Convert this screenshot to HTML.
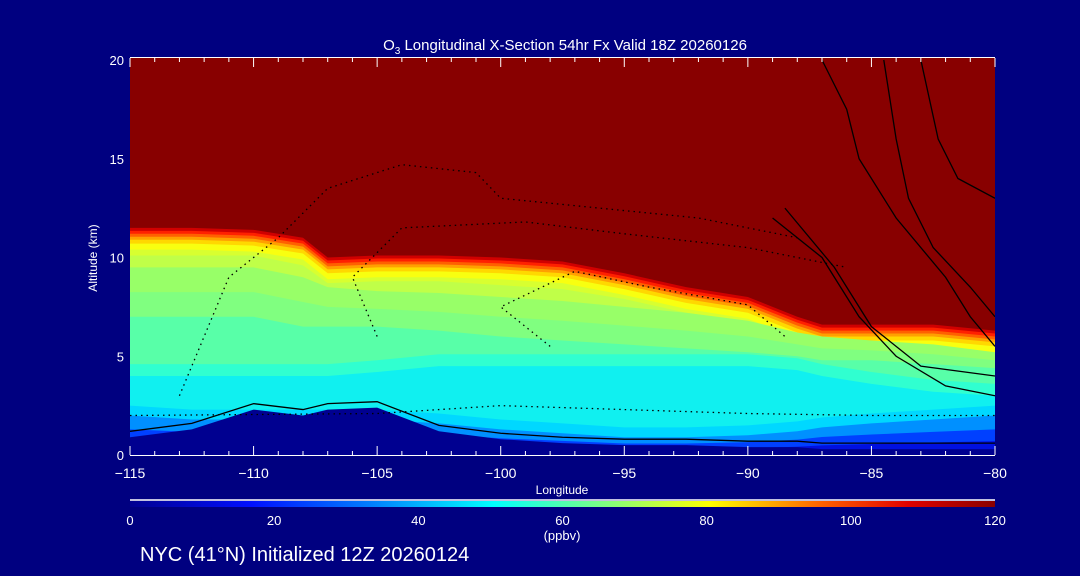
<!DOCTYPE html>
<html><head><meta charset="utf-8"><style>
html,body{margin:0;padding:0;background:#000080;}
svg{display:block;font-family:"Liberation Sans",sans-serif;}
</style></head><body>
<svg id="chart" width="1080" height="576" viewBox="0 0 1080 576">
<defs>
<linearGradient id="cbar" x1="0" x2="1" y1="0" y2="0">
<stop offset="0" stop-color="#000090"/><stop offset="0.14" stop-color="#0010ff"/>
<stop offset="0.28" stop-color="#0080ff"/><stop offset="0.42" stop-color="#00ffff"/>
<stop offset="0.55" stop-color="#80ff80"/><stop offset="0.67" stop-color="#ffff00"/>
<stop offset="0.8" stop-color="#ff6000"/><stop offset="0.9" stop-color="#e00000"/>
<stop offset="1" stop-color="#880000"/></linearGradient>
<clipPath id="clip"><rect x="130" y="58" width="865" height="397"/></clipPath>
</defs>
<rect width="1080" height="576" fill="#000080"/>
<g id="plot" clip-path="url(#clip)"></g>
<g id="axes"></g>
<text x="565" y="50" fill="#fff" font-size="15" text-anchor="middle">O<tspan font-size="10" dy="4">3</tspan><tspan dy="-4"> Longitudinal X-Section 54hr  Fx Valid 18Z 20260126</tspan></text>
<text x="97" y="258" fill="#fff" font-size="12" text-anchor="middle" transform="rotate(-90 97 258)">Altitude (km)</text>
<text x="562" y="494" fill="#fff" font-size="12" text-anchor="middle">Longitude</text>
<line x1="130" y1="500" x2="995" y2="500" stroke="#fff" stroke-width="1.5"/>
<rect x="130" y="501" width="865" height="6" fill="url(#cbar)"/>
<g id="cbl"></g>
<text x="562" y="540" fill="#fff" font-size="13" text-anchor="middle">(ppbv)</text>
<text x="140" y="561" fill="#fff" font-size="20">NYC (41°N) Initialized 12Z 20260124</text>
</svg>
<script>
const lons=[-115,-112.5,-110,-108,-107,-105,-102.5,-100,-97.5,-95,-92.5,-90,-88,-87,-85,-82.5,-80];
const tropo=[11.5,11.5,11.4,11,10,10.1,10.1,10,9.8,9.2,8.5,8,7,6.6,6.6,6.6,6.3];
const ygBottom=[9.5,9.5,9.5,9,8.5,8.3,8.2,8,7.8,7.5,7.2,6.8,6.2,6,5.8,5.6,5.2];
const greenBottom=[7,7,7,6.5,6.5,6.5,6.3,6,5.8,5.6,5.4,5.2,5,4.8,4.8,4.6,4.4];
const cyanTop=[4,4,4,4,4,4.2,4.5,4.5,4.5,4.5,4.5,4.5,4.3,4,3.6,3.2,3];
const blueTop=[2,1.8,1.8,1.8,1.8,1.8,1.6,1.3,1.1,0.9,0.9,1,1.2,1.4,1.6,1.8,2];
const terrain=[0.9,1.3,2.3,2.0,2.3,2.4,1.2,0.8,0.6,0.5,0.5,0.4,0.4,0.3,0.3,0.3,0.3];
const xTicks=[-115,-110,-105,-100,-95,-90,-85,-80];
const yTicks=[0,5,10,15,20];
const cbTicks=[0,20,40,60,80,100,120];
const contourDotted10=[[-113,3],[-112,6],[-111,9],[-109,11],[-107,13.5],[-104,14.7],[-101,14.3],[-100,13],[-96,12.5],[-92,12],[-88,11]];
const contourDotted20=[[-105,6],[-106,9],[-104,11.5],[-99,11.8],[-95,11.2],[-90,10.5],[-86,9.5]];
const contourDotted30=[[-98,5.5],[-100,7.5],[-97,9.3],[-94,8.5],[-90,7.6],[-88.5,6]];
const contourDottedLow=[[-115,2],[-105,2.1],[-100,2.5],[-95,2.3],[-90,2.1],[-85,2],[-80,2]];
const contourSolid0=[[-87,20],[-86,17.5],[-85.5,15],[-84,12],[-82,9],[-81,7],[-80,5.5]];
const contourSolid1=[[-84.5,20],[-84,16],[-83.5,13],[-82.5,10.5],[-81,8.5],[-80,7]];
const contourSolid2=[[-83,20],[-82.3,16],[-81.5,14],[-80,13]];
const contourSolid3=[[-89,12],[-87,10],[-85.5,7],[-84,5],[-82,3.5],[-80,3]];
const contourSolid4=[[-88.5,12.5],[-86.5,9.5],[-85,6.5],[-83,4.5],[-80,4]];
const ns='http://www.w3.org/2000/svg';
const X=v=>130+(v+115)*(865/35), Y=v=>455-v*19.75;
const plot=document.getElementById('plot'),axes=document.getElementById('axes');
function poly(arr,fill,name){const p=document.createElementNS(ns,'polygon');
let pts=lons.map((l,i)=>X(l)+','+Y(arr[i]));pts.push(X(-80)+','+Y(-1),X(-115)+','+Y(-1));
p.setAttribute('points',pts.join(' '));p.setAttribute('fill',fill);


plot.appendChild(p);}
const bg=document.createElementNS(ns,'rect');bg.setAttribute('x',130);bg.setAttribute('y',58);bg.setAttribute('width',865);bg.setAttribute('height',397);bg.setAttribute('fill','#880000');


plot.appendChild(bg);
const bands=[[0,'#d00000'],[0.15,'#ff2000'],[0.3,'#ff6000'],[0.45,'#ffa000'],[0.6,'#ffd800'],[0.8,'#f8ff10'],[1.1,'#d8ff30']];
bands.forEach(([d,c])=>poly(tropo.map(v=>v-d),c,'band-tropopause'));
poly(ygBottom.map((v,i)=>Math.min(v+0.6,tropo[i]-1.3)),'#c0ff48','band-yellowgreen');
poly(ygBottom,'#98ff68','band-lightgreen');
poly(greenBottom.map((v,i)=>(v+ygBottom[i])/2),'#80ff80','band-green');
poly(greenBottom,'#58ffa8','band-seagreen');
poly(cyanTop.map(v=>v+0.6),'#30ffd0','band-aqua');
poly(cyanTop,'#10f0f0','band-cyan');
poly(blueTop.map(v=>v+0.5),'#00d8ff','band-skyblue');
poly(blueTop,'#0090ff','band-lightblue');
poly(blueTop.map(v=>v*0.65),'#0040ff','band-blue');
poly(blueTop.map(v=>v*0.35),'#0010e0','band-deepblue');
poly(terrain,'#000090','terrain');
function line(pts,dash,name){const p=document.createElementNS(ns,'polyline');
p.setAttribute('points',pts.map(q=>X(q[0])+','+Y(q[1])).join(' '));
p.setAttribute('fill','none');p.setAttribute('stroke','#000');p.setAttribute('stroke-width','1.3');
if(dash)p.setAttribute('stroke-dasharray','1.5 4');


plot.appendChild(p);}
line(contourDotted10,true,'contour-minus10');
line(contourDotted20,true,'contour-minus20');
line(contourDotted30,true,'contour-minus30');
line(contourDottedLow,true,'contour-minus10-low');
line(contourSolid0,false,'contour-zero');
line(contourSolid1,false,'contour-10');
line(contourSolid2,false,'contour-20');
line(contourSolid3,false,'contour-zero-low');
line(contourSolid4,false,'contour-10-low');
line(terrain.map((v,i)=>[lons[i],v+0.3]),false,'contour-zero-surface');
function t(x,y,s,anchor,size,name){const e=document.createElementNS(ns,'text');e.setAttribute('x',x);e.setAttribute('y',y);e.setAttribute('fill','#fff');e.setAttribute('font-size',size);e.setAttribute('text-anchor',anchor);e.textContent=s;


return e;}
function l(x1,y1,x2,y2,g){const e=document.createElementNS(ns,'line');e.setAttribute('x1',x1);e.setAttribute('y1',y1);e.setAttribute('x2',x2);e.setAttribute('y2',y2);e.setAttribute('stroke','#fff');e.setAttribute('stroke-width','1');


g.appendChild(e);}
l(130,57.5,995,57.5,axes);l(130,455.5,995,455.5,axes);
for(let v=-115;v<=-80;v++){const x=X(v);l(x,455,x,v%5==0?446:451,axes);l(x,58,x,v%5==0?67:62,axes);}
xTicks.forEach(v=>axes.appendChild(t(X(v),478,(v<0?'\u2212':'')+Math.abs(v),'middle',14,'x-tick-label')));
yTicks.forEach(v=>axes.appendChild(t(124,Y(v)+5,v,'end',13,'y-tick-label')));
const cbl=document.getElementById('cbl');
cbTicks.forEach(v=>cbl.appendChild(t(130+v/120*865,525,v,'middle',13,'colorbar-tick-label')));
</script>
</body></html>
